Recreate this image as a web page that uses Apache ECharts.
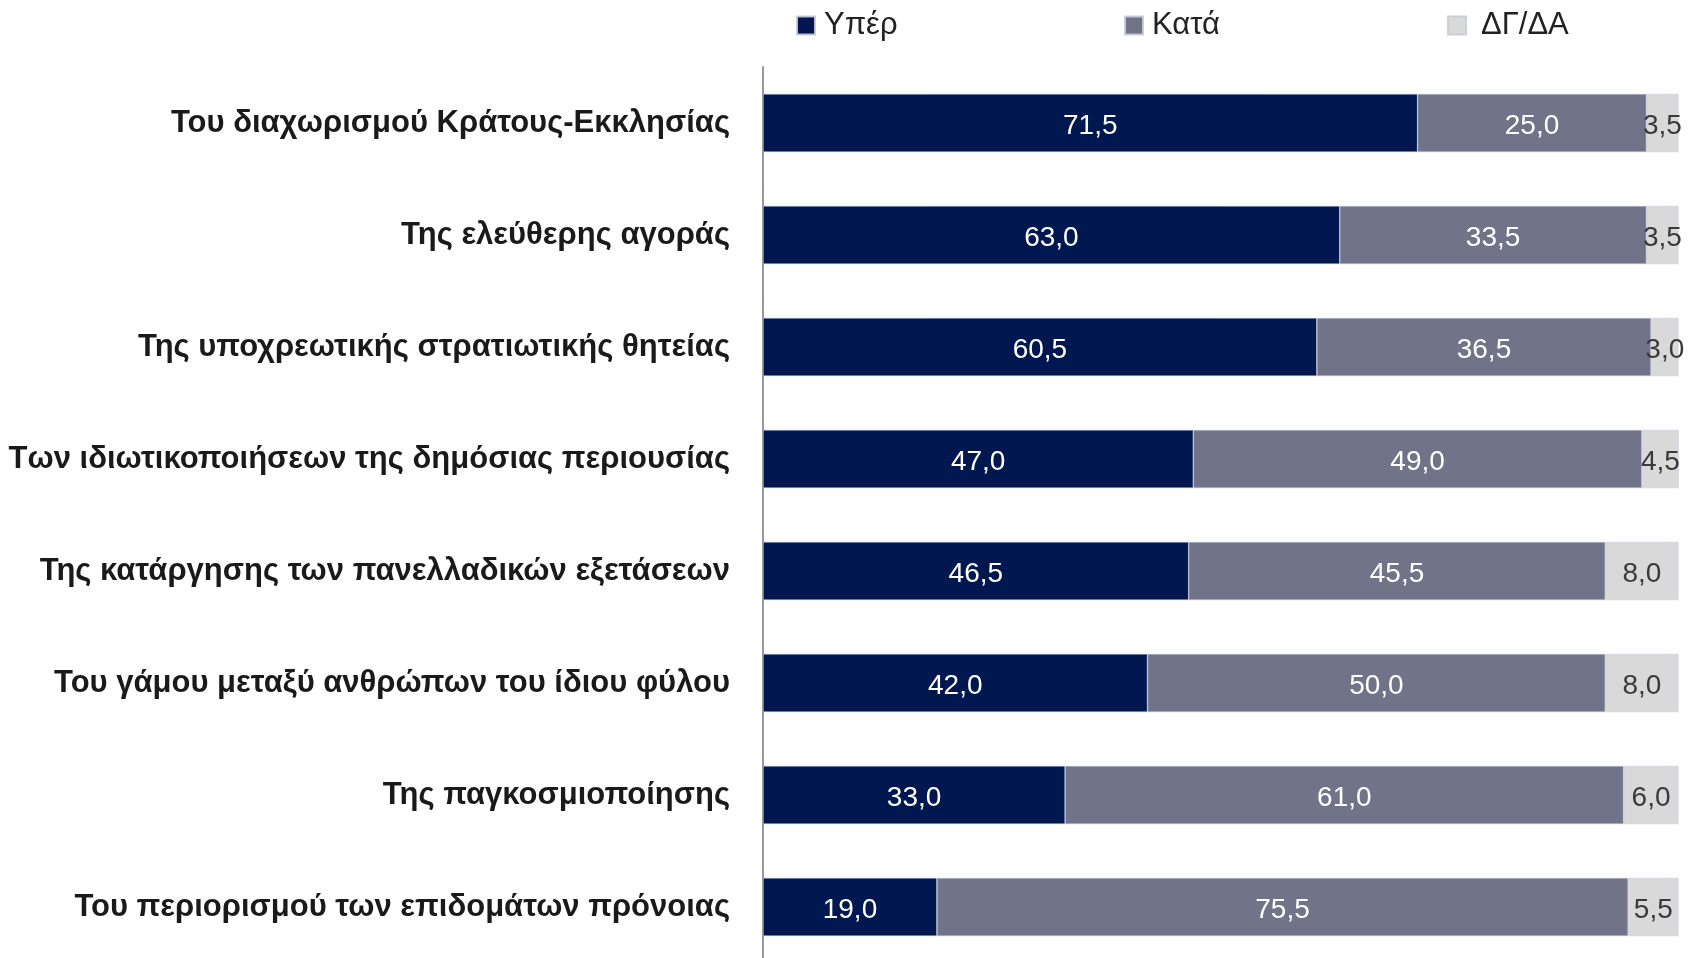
<!DOCTYPE html>
<html>
<head>
<meta charset="utf-8">
<script src="https://cdn.jsdelivr.net/npm/echarts@6/dist/echarts.min.js"></script>
<style>
html,body{margin:0;padding:0;background:#fff;}
#chart{width:1698px;height:958px;}
</style>
</head>
<body>
<div id="chart"></div>
<script>
const categories = [
  "Του διαχωρισμού Κράτους-Εκκλησίας",
  "Της ελεύθερης αγοράς",
  "Της υποχρεωτικής στρατιωτικής θητείας",
  "Των ιδιωτικοποιήσεων της δημόσιας περιουσίας",
  "Της κατάργησης των πανελλαδικών εξετάσεων",
  "Του γάμου μεταξύ ανθρώπων του ίδιου φύλου",
  "Της παγκοσμιοποίησης",
  "Του περιορισμού των επιδομάτων πρόνοιας"
];
const seriesNames = ["Υπέρ", "Κατά", "ΔΓ/ΔΑ"];
const yper = [71.5, 63.0, 60.5, 47.0, 46.5, 42.0, 33.0, 19.0];
const kata = [25.0, 33.5, 36.5, 49.0, 45.5, 50.0, 61.0, 75.5];
const dgda = [3.5, 3.5, 3.0, 4.5, 8.0, 8.0, 6.0, 5.5];

const FONT = "'Liberation Sans Narrow', 'Liberation Sans', Arial, sans-serif";
const colors = ["#00174f", "#717488", "#d9d9d9"];
const fmt = p => p.value.toFixed(1).replace('.', ',');

const chart = echarts.init(document.getElementById('chart'), null, {renderer: 'canvas'});

function mkSeries(name, data, color, labelColor) {
  return {
    name: name,
    type: 'bar',
    stack: 'total',
    data: data,
    barWidth: '52%',
    clip: true,
    itemStyle: {color: color, borderColor: 'rgba(200,203,215,0.9)', borderWidth: 0.6},
    label: {
      show: true,
      position: 'inside',
      offset: [0, 3],
      formatter: fmt,
      color: labelColor,
      fontFamily: FONT,
      fontSize: 28,
      fontWeight: 'normal'
    },
    emphasis: {disabled: true}
  };
}

function mkLegend(name, left, pad) {
  return {
    data: [name],
    left: left,
    top: 5,
    itemWidth: 18,
    itemHeight: 18,
    itemGap: 0,
    icon: 'rect',
    textStyle: {fontFamily: FONT, fontSize: 31, color: '#222', padding: [0, 0, 0, pad]}
  };
}

chart.setOption({
  animation: false,
  backgroundColor: '#fff',
  color: colors,
  legend: [
    mkLegend(seriesNames[0], 791, 4),
    mkLegend(seriesNames[1], 1119, 4),
    mkLegend(seriesNames[2], 1442, 10)
  ],
  grid: {left: 763, top: 67, width: 915.5, height: 896, containLabel: false, outerBoundsMode: 'none'},
  xAxis: {
    type: 'value',
    min: 0,
    max: 100,
    show: false
  },
  yAxis: {
    type: 'category',
    data: categories,
    inverse: true,
    axisLine: {show: true, lineStyle: {color: '#9a9a9a', width: 2}},
    axisTick: {show: false},
    axisLabel: {
      fontFamily: FONT,
      fontSize: 31,
      fontWeight: 'bold',
      color: '#1a1a1a',
      margin: 33
    }
  },
  series: [
    mkSeries(seriesNames[0], yper, colors[0], '#ffffff'),
    mkSeries(seriesNames[1], kata, colors[1], '#ffffff'),
    mkSeries(seriesNames[2], dgda, colors[2], '#3a3a3a')
  ]
});
</script>
</body>
</html>
